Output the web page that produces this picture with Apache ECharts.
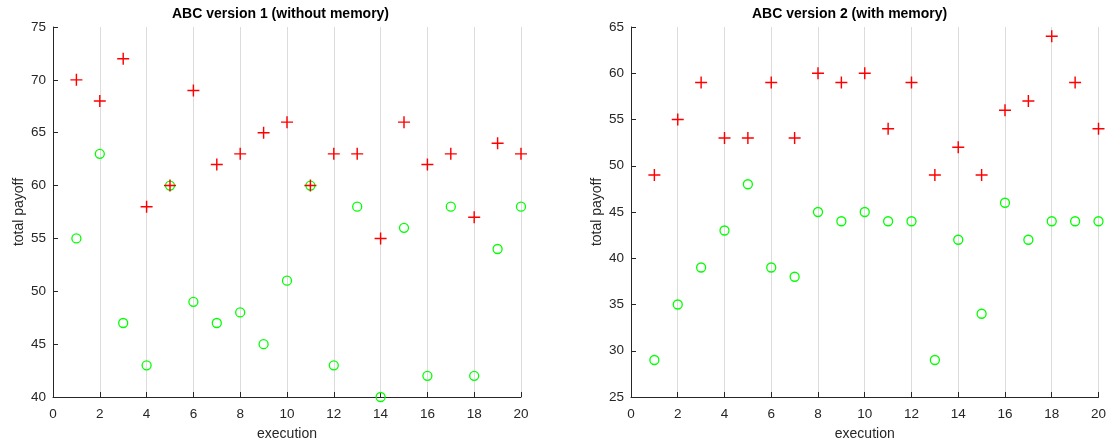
<!DOCTYPE html>
<html style="height: 100%">
<head>
  <meta charset="utf-8">
  <script src="https://cdn.jsdelivr.net/npm/echarts@6/dist/echarts.min.js"></script>
</head>
<body style="height: 100%; margin: 0; background: #fff">
  <div id="container" style="width: 1109px; height: 446px"></div>
  <script type="text/javascript">
    var executions = [1, 2, 3, 4, 5, 6, 7, 8, 9, 10, 11, 12, 13, 14, 15, 16, 17, 18, 19, 20];
    // version 1 (without memory)
    var v1Plus = [70, 68, 72, 58, 60, 69, 62, 63, 65, 66, 60, 63, 63, 55, 66, 62, 63, 57, 64, 63];
    var v1Circle = [55, 63, 47, 43, 60, 49, 47, 48, 45, 51, 60, 43, 58, 40, 56, 42, 58, 42, 54, 58];
    // version 2 (with memory)
    var v2Plus = [49, 55, 59, 53, 53, 59, 53, 60, 59, 60, 54, 59, 49, 52, 49, 56, 57, 64, 59, 54];
    var v2Circle = [29, 35, 39, 43, 48, 39, 38, 45, 44, 45, 44, 44, 29, 42, 34, 46, 42, 44, 44, 44];
    var titles = ['ABC version 1 (without memory)', 'ABC version 2 (with memory)'];

    var FONT = '"Liberation Sans", Arial, sans-serif';
    var PLUS = 'path://M4.4,0H5.6V4.4H10V5.6H5.6V10H4.4V5.6H0V4.4H4.4Z';

    function pairs(vals) {
      return vals.map(function (v, i) { return [executions[i], v]; });
    }

    function xAxis(idx) {
      return {
        gridIndex: idx, type: 'value', min: 0, max: 20, interval: 2,
        name: 'execution', nameLocation: 'middle', nameGap: 30,
        nameTextStyle: { fontFamily: FONT, fontSize: 14, color: '#262626' },
        axisLine: { lineStyle: { color: '#262626', width: 1 } },
        axisTick: { inside: true, length: 5, lineStyle: { color: '#262626' } },
        axisLabel: { fontFamily: FONT, fontSize: 13.5, color: '#262626', margin: 10 },
        splitLine: { show: true, lineStyle: { color: '#dcdcdc', width: 1 } }
      };
    }

    function yAxis(idx, min, max) {
      return {
        gridIndex: idx, type: 'value', min: min, max: max, interval: 5,
        name: 'total payoff', nameLocation: 'middle', nameGap: 27,
        nameTextStyle: { fontFamily: FONT, fontSize: 14, color: '#262626' },
        axisLine: { show: true, lineStyle: { color: '#262626', width: 1 } },
        axisTick: { show: true, inside: true, length: 5, lineStyle: { color: '#262626' } },
        axisLabel: { fontFamily: FONT, fontSize: 13.5, color: '#262626', margin: 7 },
        splitLine: { show: false }
      };
    }

    function plusSeries(idx, vals) {
      return {
        type: 'scatter', xAxisIndex: idx, yAxisIndex: idx, data: pairs(vals),
        symbol: PLUS, symbolSize: 12, itemStyle: { color: '#ff0000', opacity: 1 },
        z: 3
      };
    }

    function circleSeries(idx, vals) {
      return {
        type: 'scatter', xAxisIndex: idx, yAxisIndex: idx, data: pairs(vals),
        symbol: 'circle', symbolSize: 9,
        itemStyle: { color: 'rgba(0,0,0,0)', borderColor: '#00ff00', borderWidth: 1.3, opacity: 1 },
        z: 2
      };
    }

    var chart = echarts.init(document.getElementById('container'), null, { renderer: 'canvas' });
    chart.setOption({
      animation: false,
      backgroundColor: '#fff',
      grid: [
        { left: 53, right: 588, top: 27, bottom: 49 },
        { left: 631, right: 10, top: 27, bottom: 49 }
      ],
      xAxis: [xAxis(0), xAxis(1)],
      yAxis: [yAxis(0, 40, 75), yAxis(1, 25, 65)],
      graphic: [
        { type: 'text', left: 287 - 115, top: 7, style: { text: titles[0], font: 'bold 14px ' + FONT, fill: '#000' } },
        { type: 'text', left: 865 - 113, top: 7, style: { text: titles[1], font: 'bold 14px ' + FONT, fill: '#000' } }
      ],
      series: [
        circleSeries(0, v1Circle), plusSeries(0, v1Plus),
        circleSeries(1, v2Circle), plusSeries(1, v2Plus)
      ]
    });
  </script>
</body>
</html>
